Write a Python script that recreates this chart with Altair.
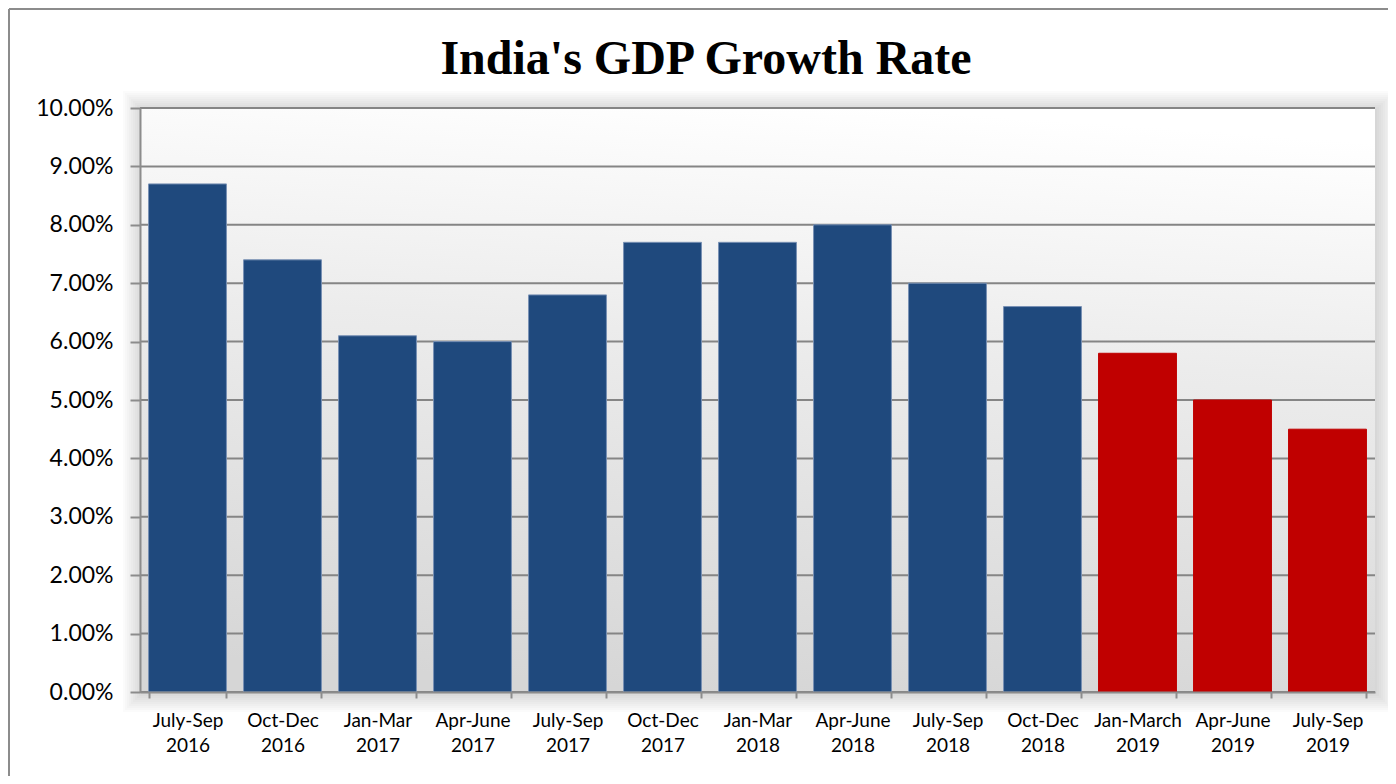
import altair as alt
import pandas as pd

# ---- data ----
title_text = "India's GDP Growth Rate"
categories = [
    "July-Sep 2016", "Oct-Dec 2016", "Jan-Mar 2017", "Apr-June 2017",
    "July-Sep 2017", "Oct-Dec 2017", "Jan-Mar 2018", "Apr-June 2018",
    "July-Sep 2018", "Oct-Dec 2018", "Jan-March 2019", "Apr-June 2019",
    "July-Sep 2019",
]
growth = [8.7, 7.4, 6.1, 6.0, 6.8, 7.7, 7.7, 8.0, 7.0, 6.6, 5.8, 5.0, 4.5]
y_ticks = [0, 1, 2, 3, 4, 5, 6, 7, 8, 9, 10]

period = ["2019" if c.endswith("2019") else "earlier" for c in categories]
df = pd.DataFrame({"quarter": categories, "growth": growth, "period": period})

W, H = 1235, 584
PAD_L, PAD_T, PAD_R, PAD_B = 132, 100, 13, 84

x_scale = alt.Scale(domain=categories, paddingInner=0.18, paddingOuter=0.09)
y_scale = alt.Scale(domain=[0, 10], nice=False, zero=True)

y_axis = alt.Axis(
    title=None, values=y_ticks,
    labelExpr="format(datum.value, '.2f') + '%'",
    labelFont="Lato", labelFontSize=23, labelColor="black",
    labelPadding=17, tickSize=10, tickWidth=2, tickColor="#8c8c8c",
    domainColor="#8c8c8c", domainWidth=2, grid=False, zindex=1,
)
x_axis = alt.Axis(
    title=None, labelAngle=0, labelExpr="split(datum.label, ' ')",
    labelFont="Lato", labelFontSize=19, labelColor="black",
    labelLineHeight=25, labelPadding=13,
    tickBand="extent", tickSize=6, tickWidth=2, tickColor="#8c8c8c",
    domainColor="#8c8c8c", domainWidth=2, grid=False, zindex=1,
)

one = alt.Data(values=[{"k": 1}])

# outer chart frame (left and top edges visible)
frame_left = alt.Chart(one).mark_rule(color="#8c8c8c", strokeWidth=2).encode(
    x=alt.value(-PAD_L + 1), y=alt.value(-PAD_T + 1), y2=alt.value(H + PAD_B)
)
frame_top = alt.Chart(one).mark_rule(color="#8c8c8c", strokeWidth=2).encode(
    x=alt.value(-PAD_L + 1), x2=alt.value(W + PAD_R), y=alt.value(-PAD_T + 1)
)

# soft drop shadow around the plot area
shadows = []
for k in [2, 4, 6, 8, 10, 12, 14, 16, 18, 20]:
    shadows.append(
        alt.Chart(one).mark_rect(color="black", opacity=0.014).encode(
            x=alt.value(-k + 3), x2=alt.value(W + k),
            y=alt.value(-k + 3), y2=alt.value(H + k),
        )
    )

gradient = {
    "gradient": "linear",
    "x1": 0.6, "y1": 0, "x2": 0.45, "y2": 1,
    "stops": [
        {"offset": 0, "color": "#ffffff"},
        {"offset": 0.4, "color": "#ececec"},
        {"offset": 1, "color": "#d6d6d6"},
    ],
}
background = alt.Chart(one).mark_rect(fill=gradient).encode(
    x=alt.value(0), x2=alt.value(W), y=alt.value(0), y2=alt.value(H)
)

grid = alt.Chart(pd.DataFrame({"t": y_ticks})).mark_rule(
    color="#858585", strokeWidth=2
).encode(y=alt.Y("t:Q", scale=y_scale, axis=y_axis))

bars = alt.Chart(df).mark_bar(strokeWidth=1).encode(
    x=alt.X("quarter:N", sort=categories, scale=x_scale, axis=x_axis),
    y=alt.Y("growth:Q", scale=y_scale, axis=y_axis),
    color=alt.Color(
        "period:N",
        scale=alt.Scale(domain=["earlier", "2019"], range=["#1F497D", "#C00000"]),
        legend=None,
    ),
    stroke=alt.Stroke(
        "period:N",
        scale=alt.Scale(domain=["earlier", "2019"], range=["#7890b4", "#C00000"]),
        legend=None,
    ),
)

title = alt.Chart(alt.Data(values=[{"t": title_text}])).mark_text(
    font="Liberation Serif", fontSize=48, fontWeight="bold",
    align="center", baseline="alphabetic", color="black",
).encode(text="t:N", x=alt.value(566), y=alt.value(-34))

chart = alt.layer(
    frame_left, frame_top, *shadows, background, grid, bars, title
).properties(
    width=W, height=H,
    autosize=alt.AutoSizeParams(type="none"),
    padding={"left": PAD_L, "top": PAD_T, "right": PAD_R, "bottom": PAD_B},
).configure_view(stroke=None)

chart.save("out.html", embed_options={"renderer": "svg", "actions": False})
